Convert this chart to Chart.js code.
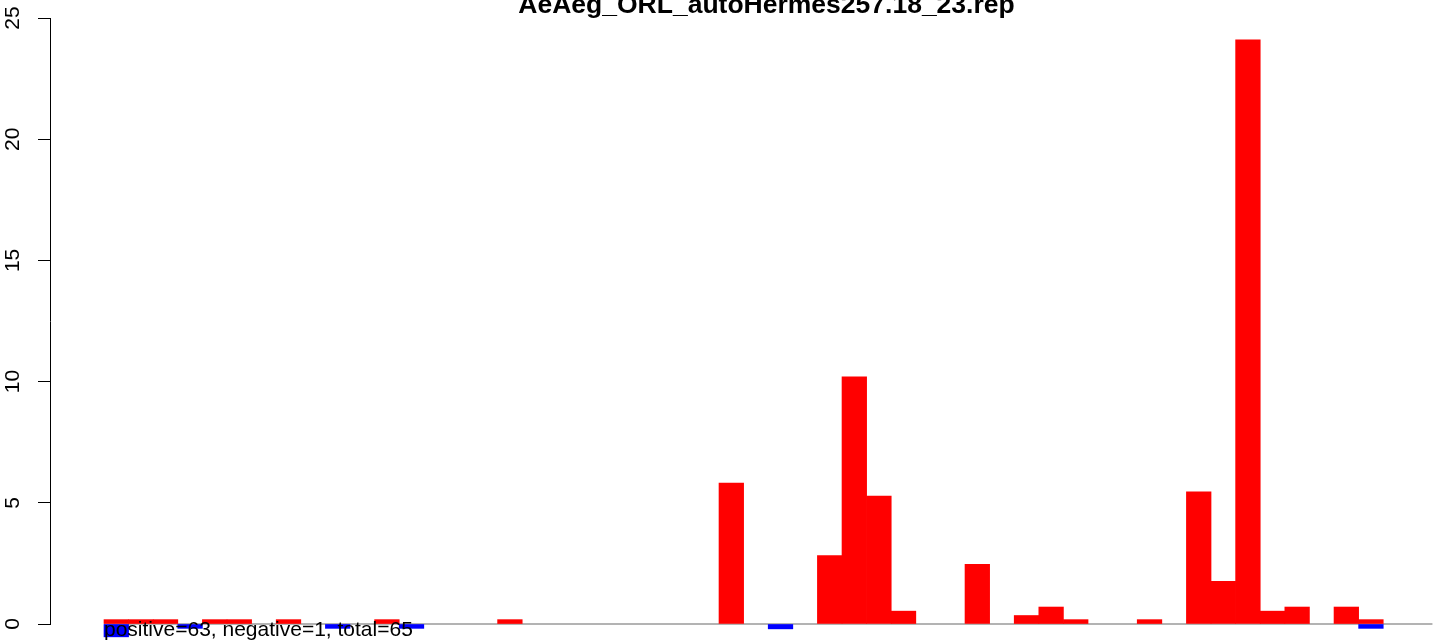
<!DOCTYPE html>
<html><head><meta charset="utf-8">
<script src="https://cdn.jsdelivr.net/npm/chart.js@4.4.1/dist/chart.umd.min.js"></script>
<style>html,body{margin:0;padding:0;background:#fff;}#wrap{width:1444px;height:643px;position:relative;}</style>
</head><body><div id="wrap"><canvas id="c" width="1444" height="643"></canvas></div>
<script>
const titleText = 'AeAeg_ORL_autoHermes257.18_23.rep';
const summaryText = 'positive=63, negative=1, total=65';
const positions = [0,1,2,3,4,5,6,7,8,9,10,11,12,13,14,15,16,17,18,19,20,21,22,23,24,25,26,27,28,29,30,31,32,33,34,35,36,37,38,39,40,41,42,43,44,45,46,47,48,49,50,51,52,53];
const positiveValues = [0.18,0.18,0.18,0,0.18,0.18,0,0.18,0,0,0,0.18,0,0,0,0,0.18,0,0,0,0,0,0,0,0,5.81,0,0,0,2.82,10.2,5.28,0.53,0,0,2.46,0,0.35,0.7,0.18,0,0,0.18,0,5.45,1.76,24.1,0.53,0.7,0,0.7,0.18,0,0];
const negativeValues = [-0.53,0,0,-0.18,0,0,0,0,0,-0.18,0,0,-0.18,0,0,0,0,0,0,0,0,0,0,0,0,0,0,-0.2,0,0,0,0,0,0,0,0,0,0,0,0,0,0,0,0,0,0,0,0,0,0,0,-0.18,0,0];
const yTicks = [0,5,10,15,20,25];
const axisLineRange = [0, 54];

const toPoints = vals => positions.map((p, i) => ({x: p + 0.5, y: vals[i] === 0 ? null : vals[i]}));

const textPlugin = {
  id: 'texts',
  afterDraw(chart) {
    const ctx = chart.ctx;
    ctx.save();
    ctx.fillStyle = '#000';
    ctx.font = 'bold 26.5px "Liberation Sans", Arial, sans-serif';
    ctx.textAlign = 'center';
    ctx.textBaseline = 'alphabetic';
    ctx.fillText(titleText, 766.5, 13);
    ctx.font = '21px "Liberation Sans", Arial, sans-serif';
    ctx.textAlign = 'left';
    ctx.fillText(summaryText, chart.scales.x.getPixelForValue(0), 636);
    ctx.restore();
  }
};

new Chart(document.getElementById('c'), {
  type: 'bar',
  data: {
    datasets: [
      { type: 'line', data: axisLineRange.map(v => ({x: v, y: 0})), borderColor: '#9a9a9a', borderWidth: 1.5, pointRadius: 0, order: 3, clip: false },
      { label: 'positive', data: toPoints(positiveValues), backgroundColor: '#ff0000', borderWidth: 0, grouped: false, barPercentage: 1, categoryPercentage: 1, order: 2, clip: false },
      { label: 'negative', data: toPoints(negativeValues), backgroundColor: '#0000ff', borderWidth: 0, grouped: false, barPercentage: 1, categoryPercentage: 1, order: 1, clip: false }
    ]
  },
  options: {
    animation: false,
    responsive: false,
    layout: { padding: { top: 18, bottom: 19, left: 0, right: 0 } },
    plugins: { legend: { display: false }, tooltip: { enabled: false } },
    scales: {
      x: { type: 'linear', min: -2.195, max: 54.47, offset: false, display: false },
      y: {
        min: yTicks[0], max: yTicks[yTicks.length - 1],
        afterBuildTicks: s => { s.ticks = yTicks.map(v => ({value: v})); },
        afterFit: s => { s.width = 50; s.paddingTop = 0; s.paddingBottom = 0; },
        ticks: { minRotation: 90, maxRotation: 90, crossAlign: 'center', padding: 13, color: '#000', font: { family: '"Liberation Sans", Arial, sans-serif', size: 21 } },
        grid: { drawOnChartArea: false, tickLength: 12, color: '#000', lineWidth: 1 },
        border: { color: '#000', width: 1 }
      }
    }
  },
  plugins: [textPlugin]
});
</script></body></html>
